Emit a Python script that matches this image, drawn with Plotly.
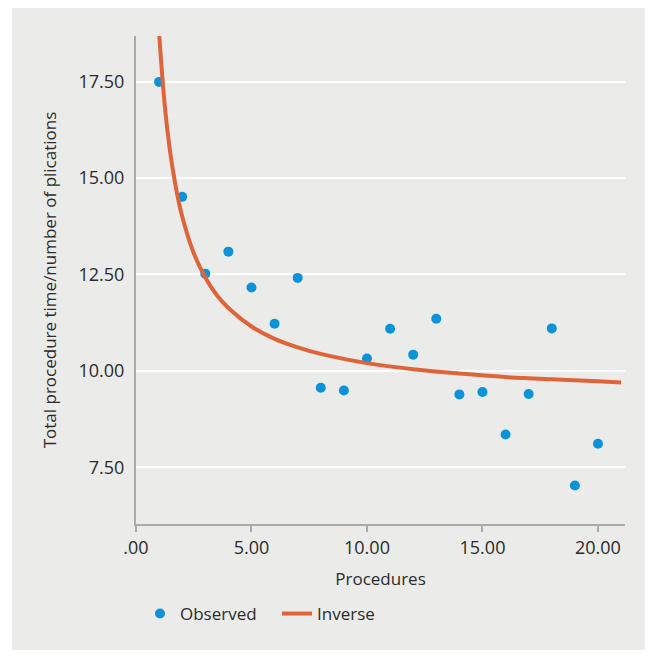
import plotly.graph_objects as go

procedures = list(range(1, 21))
observed = [17.49, 14.51, 12.52, 13.09, 12.16, 11.22, 12.41, 9.56, 9.49, 10.32,
            11.09, 10.42, 11.35, 9.39, 9.45, 8.35, 9.40, 11.10, 7.03, 8.11]

# Inverse fit curve
curve_x = [1.0, 1.25, 1.5, 1.75, 2, 2.5, 3, 3.5, 4, 5, 6, 7, 8, 10, 12, 14, 16, 18, 20, 21]
curve_y = [18.75, 16.85, 15.58, 14.68, 14.0, 13.05, 12.42, 11.96, 11.63, 11.15, 10.83,
           10.61, 10.44, 10.20, 10.04, 9.93, 9.84, 9.78, 9.73, 9.70]

x_tickvals = [0, 5, 10, 15, 20]
x_ticktext = [".00", "5.00", "10.00", "15.00", "20.00"]
y_tickvals = [7.5, 10, 12.5, 15, 17.5]
y_ticktext = ["7.50", "10.00", "12.50", "15.00", "17.50"]

BG = "#ebecea"
AXIS = "#a8aaab"
TXT = "#2b2b2b"
FONT = "Open Sans"

fig = go.Figure()
fig.add_trace(go.Scatter(
    x=procedures, y=observed, mode="markers", name="Observed",
    marker=dict(color="#0a93d8", size=10, line=dict(width=0)),
))
fig.add_trace(go.Scatter(
    x=curve_x, y=curve_y, mode="lines", name="Inverse",
    line=dict(color="#e0643a", width=4, shape="spline"),
))

# page has an 8px body margin; figure coordinates = page - 8
OFF = 8
W, H = 641, 643
L, R, T, B = 136 - OFF, W - (625 - OFF), 36 - OFF, H - (524 - OFF)
pw, ph = W - L - R, H - T - B

def px_x(p):
    return (p - OFF - L) / pw

def px_y(p):
    return (H - B - (p - OFF)) / ph

fig.add_shape(type="rect", xref="paper", yref="paper", layer="below",
              x0=px_x(12), x1=px_x(645), y0=px_y(650), y1=px_y(7),
              fillcolor=BG, line=dict(width=0))

fig.update_layout(
    width=W, height=H,
    margin=dict(l=L, r=R, t=T, b=B),
    paper_bgcolor="white",
    plot_bgcolor=BG,
    font=dict(family=FONT, size=17, color=TXT),
    showlegend=True,
    legend=dict(orientation="h", x=px_x(140), xanchor="left",
                y=px_y(614), yanchor="middle",
                bgcolor="rgba(0,0,0,0)", font=dict(size=17, color=TXT),
                itemwidth=30, entrywidth=92, entrywidthmode="pixels"),
)
fig.update_xaxes(
    range=[0, 21.17], tickvals=x_tickvals, ticktext=x_ticktext,
    showgrid=False, zeroline=False,
    showline=True, linecolor=AXIS, linewidth=2,
    ticks="outside", ticklen=6, tickwidth=2, tickcolor=AXIS,
    tickfont=dict(size=18, color=TXT),
    title=dict(text="Procedures", font=dict(size=17, color=TXT), standoff=16),
)
fig.update_yaxes(
    range=[6.03, 18.68], tickvals=y_tickvals, ticktext=y_ticktext,
    showgrid=True, gridcolor="white", gridwidth=2, zeroline=False,
    showline=True, linecolor=AXIS, linewidth=2,
    ticks="", ticklabelstandoff=6,
    tickfont=dict(size=18, color=TXT),
    title=dict(text="Total procedure time/number of plications",
               font=dict(size=17, color=TXT), standoff=18),
)

fig.write_html("out.html")
